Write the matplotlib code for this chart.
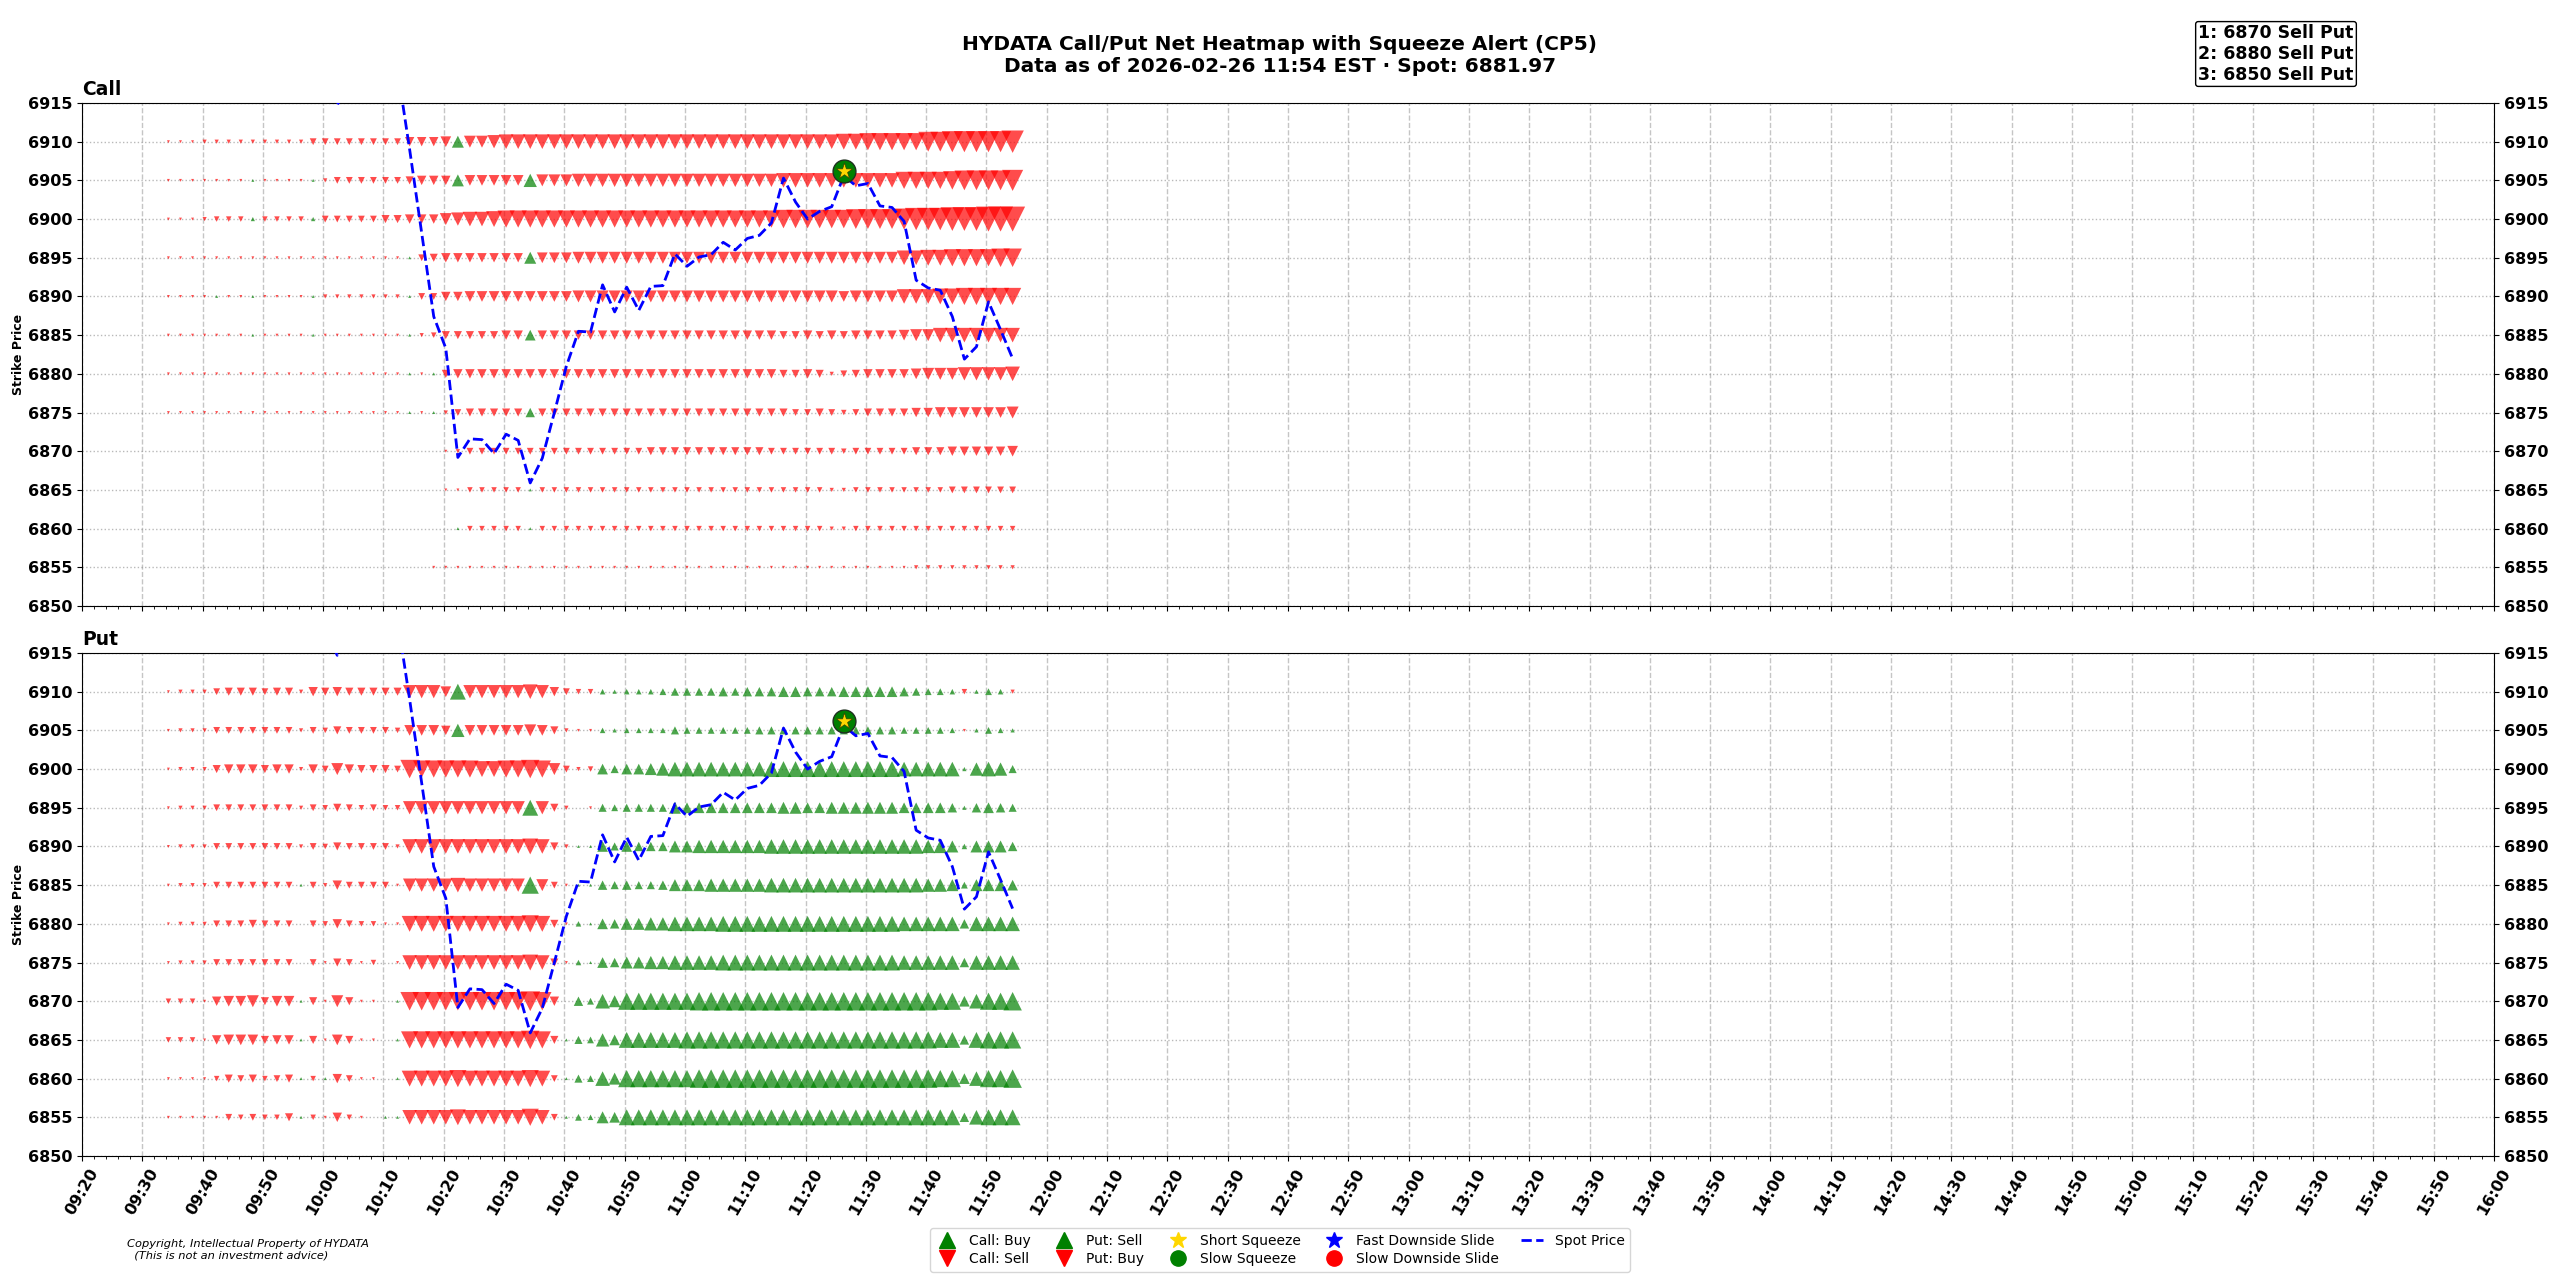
import numpy as np
import pandas as pd
import matplotlib
matplotlib.use("Agg")
import matplotlib.pyplot as plt
import matplotlib.dates as mdates
from matplotlib.lines import Line2D

plt.rcParams['font.family'] = ['DejaVu Sans']

# ---------------- data ----------------
strikes = [6910, 6905, 6900, 6895, 6890, 6885, 6880, 6875, 6870, 6865, 6860, 6855]
snap_start = "2026-02-26 09:34:20"
n_snap = 71
snap_step = "2min"

# per-strike net flow level: '.' none, a..r = sell (red, down) level 1..18, A..R = buy (green, up)
call_levels = [
    "aaabbbbbbb" "bbdddddddd" "fffgHhhijj" "jjjjjjjjjj" "jjjjjjjjjj" "jjjjjjkkll" "lllnnooooo" "p",
    "aaaaaaaAaa" "aaAbdddddd" "efffHggggg" "Ihhhiiiiii" "iiiiiiiiii" "ijjjjjjjjj" "jllllmnnnn" "o",
    "aaabcccBcc" "ccBdddddee" "fffhijjkll" "llllllllll" "llllllllll" "lmmmmmmnnn" "nopppqqqrr" "r",
    "aaaaaaaaaa" "aaaaaaaaaa" "Adefffffff" "Hggghhhhhh" "hhhhhhhhhh" "hhhhhhhhhh" "hjjkkllllm" "m",
    "aaaaAaaAaa" "aaAbbbbbbb" "Addffggggg" "gggghhhhhh" "hhhhhhhhhh" "hhhhhhghhh" "hjjjkkllll" "l",
    "aaaaaaaAaa" "aaAaaaaaaa" "Abceeeeeff" "Gfffffffff" "ffffffffff" "feefefefff" "fghhjjjjjj" "j",
    "aaaaaaaaaa" "aaaaaaaaaa" "AaAeffffff" "ffffffffff" "ffffffffff" "feefebdeff" "ffghhhiiii" "j",
    "aaaaaaaaaa" "aaaaaaaaaa" "AaAbdeeeee" "Feeeeeeeee" "eeeeeeeeee" "eeddedcdee" "eeffgggggg" "h",
    ".........." ".........." "...abddddd" "dddddddddd" "eeeeeeeeee" "ddddddcddd" "ddeeefffff" "g",
    ".........." ".........." "...aaccccc" "Accccccccc" "cccccccccc" "cccccbbccc" "cccccddddd" "d",
    ".........." ".........." "....Accccc" "Accccccccc" "cccccccccc" "cccccbbccc" "cccccccccc" "c",
    ".........." ".........." "..aaaaaaaa" "aaaaaaaaaa" "aaaaaaaaaa" "aaaaaaaaaa" "aabbbbbbbb" "b",
]

put_levels = [
    "abbbdeeede" "ebfefeeeee" "iiigKiiiii" "jifdccCBCC" "CDEEEEFEFF" "FGGFFFGGGG" "GFEDDCcBDC" "b",
    "abbbdddddd" "dbdceddddc" "gggfIggggg" "hgebaaCBCC" "CCEDDDDDDE" "EEEEEEEEEE" "EDDDDCaBDC" "B",
    "abbbefffef" "fbfdhfeeed" "mlllllkkll" "mlhdbcGEGG" "HIJJJJJJJJ" "KKKKKKKKKK" "KJJJJJBIJI" "E",
    "abbbdddddd" "dbdcedcdcc" "iiiiiiiiii" "Kieb.aEDEE" "EEHGGGGGGG" "GHHGGHHHHH" "HGGGGFBFGF" "E",
    "abbbdddddd" "dbdceddddb" "jjjjjjjjjj" "kjebAAGEGF" "FFHHIIIIII" "JJJJJJJJJJ" "JJJIIHCHHH" "F",
    "abbbdddddd" "dAdbfdddda" "iiiijiiiii" "LhdaAAFEFE" "EFHHHIIIII" "JJJJJJJJJJ" "JJJIIHDHHH" "G",
    "abbbdddedd" "d.dcfdccaa" "kkkkkkkkkk" "lkeaCAGFHH" "IIJJJJKKKK" "KKKKKKKKKK" "KJJJJJFJJJ" "J",
    "abbbdddddd" "d.daedac.a" "jjjjjjjjjj" "kjeaCAGFHH" "IIJJJJKKKK" "KKKKKKKKKK" "KJJJJJFJJJ" "J",
    "cccafggheg" "gAeaheaa.A" "mmmmmmmmmm" "nmf.FDJHLL" "LLLLMMMMMM" "MMMMMMMMMM" "MMMMLLGJLL" "M",
    "cccafgggef" "fAeageaa.A" "llllllllll" "mleAEDIGKK" "KKKLLLLLLL" "LLLLLLLLLL" "LLLLKKFKLL" "L",
    "aaaacedecd" "eAcAfdaa.A" "kkkklkkkkk" "lkdAEDJHLL" "LLLLMMMMMM" "MMMMMMMMMM" "MMMMLLGJLL" "M",
    "aaaaadcdcc" "eAcafca.AA" "jjjjkjjjjj" "ljdADCHGKK" "KKKKKKKKKK" "KKKKKKKKKK" "KKKKKKFJKK" "K",
]

spot = [6928.0, 6930.5, 6929.0, 6931.0, 6927.5, 6926.0, 6928.5, 6925.0, 6923.5, 6926.0,
        6924.0, 6921.5, 6920.0, 6918.0, 6914.7, 6918.5, 6921.0, 6923.0, 6922.0, 6919.3,
        6909.0, 6898.2, 6887.4, 6883.3, 6869.2, 6871.6, 6871.5, 6869.7, 6872.2, 6871.4,
        6865.9, 6869.1, 6875.0, 6881.0, 6885.5, 6885.4, 6891.5, 6888.0, 6891.2, 6888.2,
        6891.3, 6891.4, 6895.5, 6893.9, 6895.1, 6895.4, 6897.0, 6896.0, 6897.5, 6897.9,
        6899.5, 6905.3, 6902.2, 6900.0, 6901.0, 6901.6, 6905.6, 6904.3, 6904.6, 6901.7,
        6901.5, 6899.7, 6892.1, 6891.1, 6890.8, 6887.4, 6881.9, 6883.5, 6889.3, 6885.7,
        6881.97]

squeeze_times = ["2026-02-26 11:26:20"]
squeeze_prices = [6906.2]

top_list = ["1: 6870 Sell Put", "2: 6880 Sell Put", "3: 6850 Sell Put"]

title_line1 = "HYDATA Call/Put Net Heatmap with Squeeze Alert (CP5)"
title_line2 = "Data as of 2026-02-26 11:54 EST \u00b7 Spot: 6881.97"

x_start = "2026-02-26 09:20"
x_end = "2026-02-26 16:00"

# ---------------- helpers ----------------
def decode(row):
    row = (row + "." * n_snap)[:n_snap]
    out = []
    for ch in row:
        if ch == ".":
            out.append(0)
        elif ch.islower():
            out.append(-(ord(ch) - 96))
        else:
            out.append(ord(ch) - 64)
    return out

DPI = 100

def level_to_s(lv):
    w_px = 1.6 + 1.3 * abs(lv)
    w_pt = w_px * 72.0 / DPI
    return w_pt ** 2

times = pd.date_range(snap_start, periods=n_snap, freq=snap_step)
tnum = mdates.date2num(times.to_pydatetime())
sq_t = mdates.date2num(pd.to_datetime(squeeze_times).to_pydatetime())

fig = plt.figure(figsize=(25.6, 12.8), dpi=DPI)
ax1 = fig.add_axes([82 / 2560, 1 - 606 / 1280, (2494 - 82) / 2560, 503 / 1280])
ax2 = fig.add_axes([82 / 2560, 1 - 1156 / 1280, (2494 - 82) / 2560, 503 / 1280], sharex=ax1)

xmin = mdates.date2num(pd.Timestamp(x_start).to_pydatetime())
xmax = mdates.date2num(pd.Timestamp(x_end).to_pydatetime())

for ax, rows, name in [(ax1, call_levels, "Call"), (ax2, put_levels, "Put")]:
    xu, yu, su, xd, yd, sd = [], [], [], [], [], []
    for strike, row in zip(strikes, rows):
        for t, v in zip(tnum, decode(row)):
            if v > 0:
                xu.append(t); yu.append(strike); su.append(level_to_s(v))
            elif v < 0:
                xd.append(t); yd.append(strike); sd.append(level_to_s(v))
    ax.scatter(xu, yu, s=su, marker="^", c="green", alpha=0.7, linewidths=0, zorder=3)
    ax.scatter(xd, yd, s=sd, marker="v", c="red", alpha=0.7, linewidths=0, zorder=3)
    ax.plot(tnum, spot, color="blue", ls="--", lw=2, zorder=4)
    ax.scatter(sq_t, squeeze_prices, s=270, marker="o", c="green", edgecolors="#203020",
               linewidths=1, zorder=5)
    ax.scatter(sq_t, squeeze_prices, s=150, marker="*", c="gold", edgecolors="#404000",
               linewidths=0.5, zorder=6)

    ax.set_xlim(xmin, xmax)
    ax.set_ylim(6850, 6915)
    yt = list(range(6850, 6916, 5))
    ax.set_yticks(yt)
    ax.tick_params(axis="y", labelright=True, right=True, labelsize=11.5)
    ax.set_yticklabels([str(v) for v in yt], fontweight="bold", fontsize=11.5)
    ax.xaxis.set_major_locator(mdates.MinuteLocator(byminute=range(0, 60, 10)))
    ax.xaxis.set_minor_locator(mdates.MinuteLocator(byminute=range(0, 60, 2)))
    ax.xaxis.set_major_formatter(mdates.DateFormatter("%H:%M"))
    ax.grid(True, axis="x", which="major", ls="--", color="gray", alpha=0.45, lw=1)
    ax.grid(True, axis="y", which="major", ls=":", color="gray", alpha=0.55, lw=1)
    ax.set_ylabel("Strike Price", fontsize=9, fontweight="bold", labelpad=2)
    ax.set_title(name, loc="left", fontsize=13.5, fontweight="bold", pad=6)

ax1.tick_params(axis="x", labelbottom=False)
for lbl in ax2.get_xticklabels():
    lbl.set_rotation(60)
    lbl.set_fontweight("bold")
    lbl.set_fontsize(11.5)

fig.text(0.5, 1 - 56 / 1280, title_line1 + "\n" + title_line2, ha="center", va="center",
         fontsize=14.5, fontweight="bold")

fig.text(2276 / 2560, 1 - 54 / 1280, "\n".join(top_list), ha="center", va="center",
         fontsize=12.5, fontweight="bold",
         bbox=dict(boxstyle="round,pad=0.15", fc="white", ec="black", lw=1))

fig.text(127 / 2560, 1 - 1250 / 1280,
         "Copyright, Intellectual Property of HYDATA\n  (This is not an investment advice)",
         ha="left", va="center", fontsize=8.2, style="italic")

handles = [
    Line2D([], [], marker="^", color="green", ls="None", markersize=11, label="Call: Buy"),
    Line2D([], [], marker="v", color="red", ls="None", markersize=11, label="Call: Sell"),
    Line2D([], [], marker="^", color="green", ls="None", markersize=11, label="Put: Sell"),
    Line2D([], [], marker="v", color="red", ls="None", markersize=11, label="Put: Buy"),
    Line2D([], [], marker="*", color="gold", ls="None", markersize=12, label="Short Squeeze"),
    Line2D([], [], marker="o", color="green", ls="None", markersize=11, label="Slow Squeeze"),
    Line2D([], [], marker="*", color="blue", ls="None", markersize=12, label="Fast Downside Slide"),
    Line2D([], [], marker="o", color="red", ls="None", markersize=11, label="Slow Downside Slide"),
    Line2D([], [], color="blue", ls="--", lw=2, label="Spot Price"),
]
fig.legend(handles=handles, loc="center", bbox_to_anchor=(0.5, 1 - 1250 / 1280), ncol=5,
           fontsize=10, handlelength=1.6, columnspacing=1.6, borderpad=0.4, labelspacing=0.3)

fig.savefig("out.png", dpi=DPI)
